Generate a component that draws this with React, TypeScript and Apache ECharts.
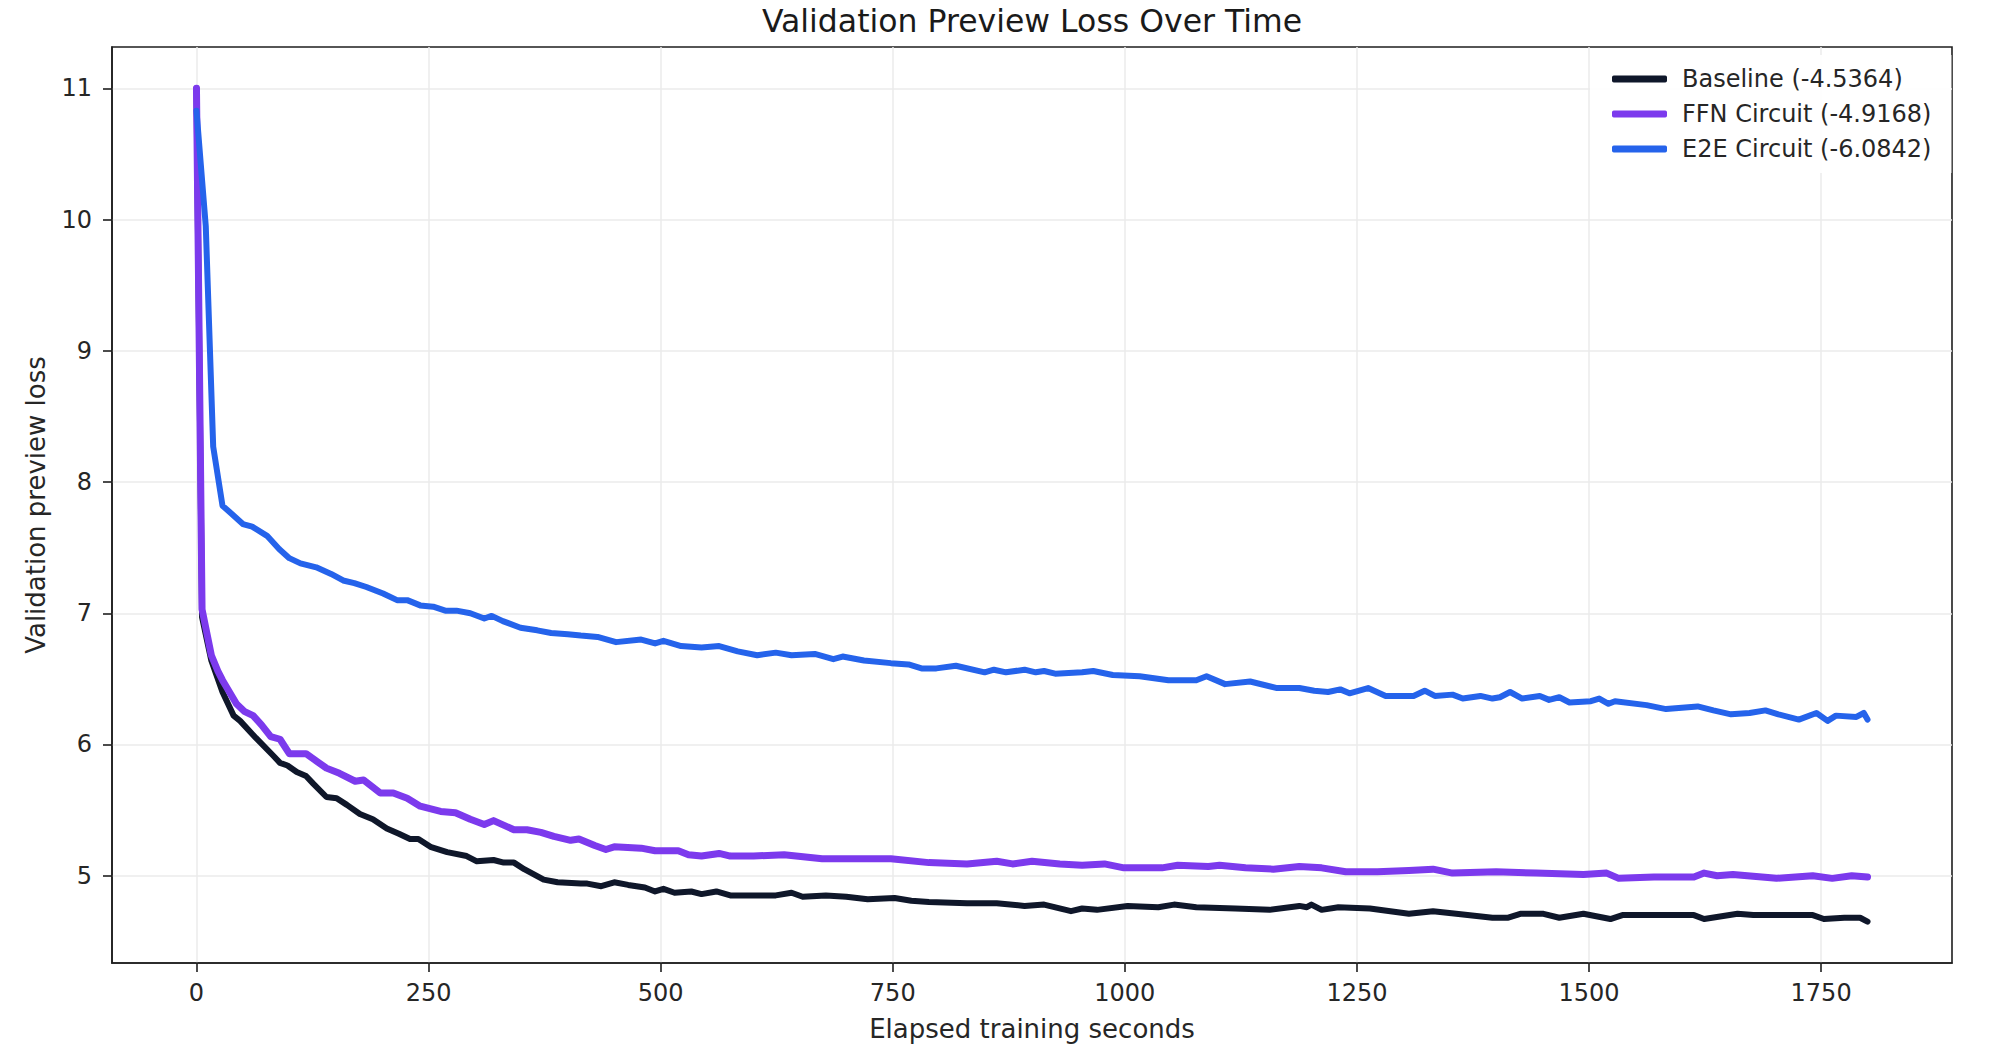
import React, { useEffect, useRef } from "react";
import * as echarts from "echarts";

const chartTitle = "Validation Preview Loss Over Time";
const xAxisTitle = "Elapsed training seconds";
const yAxisTitle = "Validation preview loss";

const xTicks = [0, 250, 500, 750, 1000, 1250, 1500, 1750];
const yTicks = [5, 6, 7, 8, 9, 10, 11];

const seriesNames = ["Baseline (-4.5364)", "FFN Circuit (-4.9168)", "E2E Circuit (-6.0842)"];
const seriesColors = ["#0f172a", "#7c3aed", "#2563eb"];

const baselineSeconds = [0, 6, 16, 28, 40, 47, 64, 82, 90, 98, 108, 118, 126, 140, 151, 162, 176, 190, 205, 218, 230, 239, 252, 270, 291, 302, 320, 331, 342, 353, 374, 389, 414, 421, 436, 450, 465, 483, 494, 503, 515, 533, 544, 560, 575, 600, 624, 641, 653, 678, 700, 723, 752, 770, 789, 830, 862, 892, 913, 942, 954, 970, 1003, 1036, 1053, 1077, 1119, 1156, 1188, 1196, 1201, 1212, 1230, 1264, 1306, 1332, 1357, 1396, 1413, 1426, 1451, 1468, 1494, 1523, 1536, 1613, 1624, 1660, 1677, 1741, 1753, 1775, 1792, 1800];
const baselineLoss = [11.0, 6.97, 6.64, 6.4, 6.22, 6.18, 6.05, 5.92, 5.86, 5.84, 5.79, 5.76, 5.7, 5.6, 5.59, 5.54, 5.47, 5.43, 5.36, 5.32, 5.28, 5.28, 5.22, 5.18, 5.15, 5.11, 5.12, 5.1, 5.1, 5.05, 4.97, 4.95, 4.94, 4.94, 4.92, 4.95, 4.93, 4.91, 4.88, 4.9, 4.87, 4.88, 4.86, 4.88, 4.85, 4.85, 4.85, 4.87, 4.84, 4.85, 4.84, 4.82, 4.83, 4.81, 4.8, 4.79, 4.79, 4.77, 4.78, 4.73, 4.75, 4.74, 4.77, 4.76, 4.78, 4.76, 4.75, 4.74, 4.77, 4.76, 4.78, 4.74, 4.76, 4.75, 4.71, 4.73, 4.71, 4.68, 4.68, 4.71, 4.71, 4.68, 4.71, 4.67, 4.7, 4.7, 4.67, 4.71, 4.7, 4.7, 4.67, 4.68, 4.68, 4.65];

const ffnSeconds = [0, 6, 12, 16, 23, 28, 43, 52, 61, 70, 80, 90, 100, 118, 130, 140, 154, 171, 180, 198, 212, 227, 241, 263, 279, 295, 310, 320, 342, 356, 371, 385, 403, 412, 429, 441, 450, 479, 494, 519, 530, 544, 563, 575, 600, 633, 674, 710, 748, 789, 830, 862, 879, 900, 930, 954, 978, 999, 1040, 1057, 1090, 1102, 1130, 1160, 1188, 1212, 1238, 1272, 1306, 1332, 1353, 1400, 1443, 1494, 1519, 1532, 1570, 1613, 1624, 1638, 1655, 1702, 1741, 1762, 1783, 1800];
const ffnLoss = [11.0, 7.03, 6.82, 6.68, 6.56, 6.49, 6.31, 6.25, 6.22, 6.15, 6.06, 6.04, 5.93, 5.93, 5.87, 5.82, 5.78, 5.72, 5.73, 5.63, 5.63, 5.59, 5.53, 5.49, 5.48, 5.43, 5.39, 5.42, 5.35, 5.35, 5.33, 5.3, 5.27, 5.28, 5.23, 5.2, 5.22, 5.21, 5.19, 5.19, 5.16, 5.15, 5.17, 5.15, 5.15, 5.16, 5.13, 5.13, 5.13, 5.1, 5.09, 5.11, 5.09, 5.11, 5.09, 5.08, 5.09, 5.06, 5.06, 5.08, 5.07, 5.08, 5.06, 5.05, 5.07, 5.06, 5.03, 5.03, 5.04, 5.05, 5.02, 5.03, 5.02, 5.01, 5.02, 4.98, 4.99, 4.99, 5.02, 5.0, 5.01, 4.98, 5.0, 4.98, 5.0, 4.99];

const e2eSeconds = [0, 10, 18, 28, 36, 50, 60, 76, 89, 100, 112, 129, 145, 158, 170, 183, 201, 216, 227, 241, 255, 268, 280, 295, 310, 318, 330, 349, 367, 382, 400, 414, 432, 452, 479, 494, 503, 522, 544, 563, 583, 604, 624, 641, 666, 686, 696, 719, 748, 767, 781, 797, 818, 849, 859, 872, 892, 904, 913, 925, 954, 966, 987, 1016, 1047, 1077, 1088, 1108, 1135, 1164, 1188, 1204, 1219, 1232, 1242, 1262, 1281, 1311, 1323, 1334, 1353, 1364, 1383, 1396, 1404, 1415, 1428, 1447, 1457, 1468, 1479, 1502, 1511, 1521, 1528, 1562, 1583, 1617, 1634, 1653, 1673, 1690, 1704, 1726, 1745, 1757, 1766, 1788, 1796, 1800];
const e2eLoss = [10.83, 9.95, 8.27, 7.82, 7.77, 7.68, 7.66, 7.59, 7.49, 7.42, 7.38, 7.35, 7.3, 7.25, 7.23, 7.2, 7.15, 7.1, 7.1, 7.06, 7.05, 7.02, 7.02, 7.0, 6.96, 6.98, 6.94, 6.89, 6.87, 6.85, 6.84, 6.83, 6.82, 6.78, 6.8, 6.77, 6.79, 6.75, 6.74, 6.75, 6.71, 6.68, 6.7, 6.68, 6.69, 6.65, 6.67, 6.64, 6.62, 6.61, 6.58, 6.58, 6.6, 6.55, 6.57, 6.55, 6.57, 6.55, 6.56, 6.54, 6.55, 6.56, 6.53, 6.52, 6.49, 6.49, 6.52, 6.46, 6.48, 6.43, 6.43, 6.41, 6.4, 6.42, 6.39, 6.43, 6.37, 6.37, 6.41, 6.37, 6.38, 6.35, 6.37, 6.35, 6.36, 6.4, 6.35, 6.37, 6.34, 6.36, 6.32, 6.33, 6.35, 6.31, 6.33, 6.3, 6.27, 6.29, 6.26, 6.23, 6.24, 6.26, 6.23, 6.19, 6.24, 6.18, 6.22, 6.21, 6.24, 6.19];

const FONT = "DejaVu Sans";

function zip(xs: number[], ys: number[]): number[][] {
  const n = Math.min(xs.length, ys.length);
  const out: number[][] = [];
  for (let i = 0; i < n; i++) out.push([xs[i], ys[i]]);
  return out;
}

export default function App() {
  const ref = useRef<HTMLDivElement>(null);

  useEffect(() => {
    document.body.style.margin = "0";
    const el = ref.current;
    if (!el) return;
    const chart = echarts.init(el, null, { renderer: "svg" });

    const seriesData = [
      zip(baselineSeconds, baselineLoss),
      zip(ffnSeconds, ffnLoss),
      zip(e2eSeconds, e2eLoss),
    ];
    const widths = [6, 7, 6];

    const axisColor = "#1f1f1f";
    const textColor = "#262626";

    chart.setOption({
      animation: false,
      backgroundColor: "#ffffff",
      textStyle: { fontFamily: FONT },
      grid: {
        left: 112,
        top: 47,
        width: 1840,
        height: 916,
        show: true,
        borderColor: axisColor,
        borderWidth: 1.6,
        backgroundColor: "transparent",
      },
      graphic: [
        {
          type: "text",
          x: 1032,
          y: 21,
          style: {
            text: chartTitle,
            font: `31.5px "${FONT}"`,
            fill: "#1a1a1a",
            align: "center",
            verticalAlign: "middle",
          },
        },
      ],
      legend: {
        orient: "vertical",
        left: 1590,
        top: 55,
        padding: [12, 20, 12, 22],
        backgroundColor: "rgba(255,255,255,0.9)",
        itemWidth: 55,
        itemHeight: 7,
        itemGap: 11,
        icon: "roundRect",
        selectedMode: false,
        textStyle: {
          fontFamily: FONT,
          fontSize: 24,
          lineHeight: 24,
          color: textColor,
          padding: [0, 0, 0, 10],
        },
        data: seriesNames,
      },
      xAxis: {
        type: "value",
        min: -91,
        max: 1891,
        name: xAxisTitle,
        nameLocation: "middle",
        nameGap: 53,
        nameTextStyle: { fontFamily: FONT, fontSize: 26, color: textColor },
        axisLine: { show: true, onZero: false, lineStyle: { color: axisColor, width: 1.6 } },
        axisTick: {
          show: true,
          inside: false,
          length: 9,
          customValues: xTicks,
          lineStyle: { color: axisColor, width: 1.6 },
        },
        axisLabel: {
          customValues: xTicks,
          margin: 18,
          fontFamily: FONT,
          fontSize: 24,
          color: textColor,
          formatter: (v: number) => String(v),
        },
        splitLine: { show: true, lineStyle: { color: "#ebebeb", width: 1.5 } },
      },
      yAxis: {
        type: "value",
        min: 4.335,
        max: 11.315,
        name: yAxisTitle,
        nameLocation: "middle",
        nameGap: 63,
        nameRotate: 90,
        nameTextStyle: { fontFamily: FONT, fontSize: 26, color: textColor },
        axisLine: { show: true, onZero: false, lineStyle: { color: axisColor, width: 1.6 } },
        axisTick: {
          show: true,
          inside: false,
          length: 9,
          customValues: yTicks,
          lineStyle: { color: axisColor, width: 1.6 },
        },
        axisLabel: {
          customValues: yTicks,
          margin: 20,
          fontFamily: FONT,
          fontSize: 24,
          color: textColor,
          formatter: (v: number) => String(v),
        },
        splitLine: { show: true, lineStyle: { color: "#ebebeb", width: 1.5 } },
      },
      series: seriesNames.map((name, i) => ({
        name,
        type: "line",
        data: seriesData[i],
        color: seriesColors[i],
        showSymbol: false,
        symbol: "none",
        silent: true,
        z: 2 + i,
        emphasis: { disabled: true },
        lineStyle: {
          color: seriesColors[i],
          width: widths[i],
          cap: "round",
          join: "round",
        },
      })),
    });

    return () => {
      chart.dispose();
    };
  }, []);

  return <div ref={ref} style={{ width: 1999, height: 1058 }} />;
}
